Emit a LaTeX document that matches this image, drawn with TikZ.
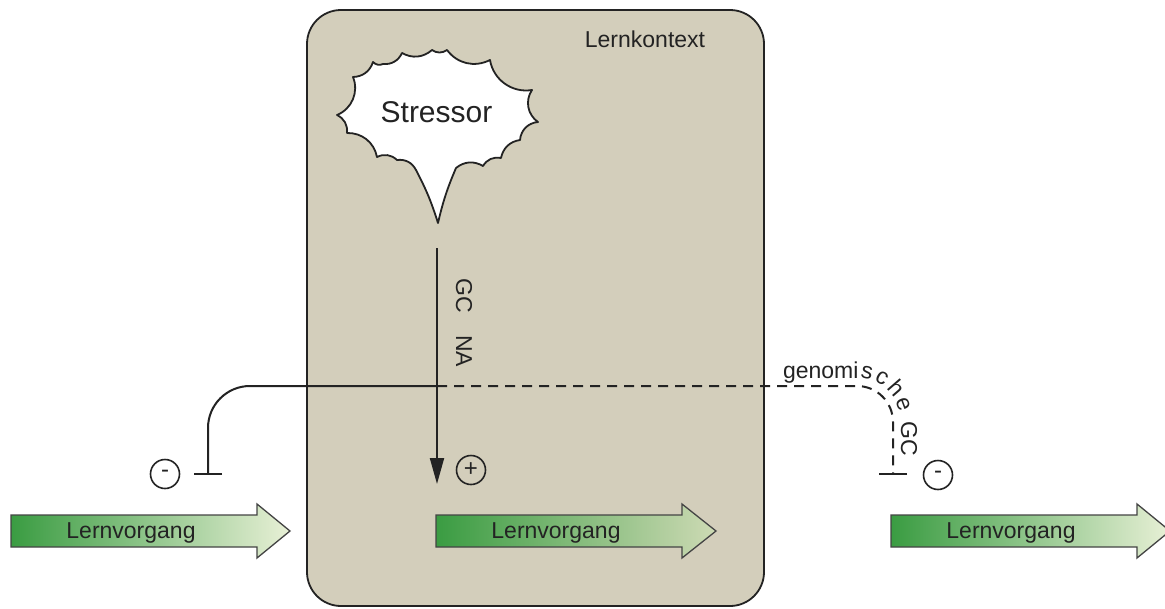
\documentclass[tikz,border=0pt]{standalone}
\usepackage{fontspec}
\setmainfont{Liberation Sans}
\usetikzlibrary{arrows.meta,calc,decorations.text}
\definecolor{ctxfill}{RGB}{211,206,187}
\definecolor{ink}{RGB}{35,35,35}
\definecolor{gdark}{RGB}{58,156,66}
\definecolor{glight}{RGB}{232,240,214}
\definecolor{glighttwo}{RGB}{205,218,180}
\begin{document}
\begin{tikzpicture}[x=1pt,y=-1pt,
  txt/.style={font=\fontsize{23}{27}\selectfont, text=ink, inner sep=0pt},
  ctxbox/.style={draw=ink, line width=1.8pt, fill=ctxfill, rounded corners=34pt, inner sep=0pt},
  burst/.style={draw=ink, line width=1.8pt, fill=white, line join=round},
  link/.style={draw=ink, line width=2pt},
  dashlink/.style={link, dash pattern=on 10pt off 7pt},
  sign/.style={circle, draw=ink, line width=1.6pt, minimum size=29pt, inner sep=0pt, font=\fontsize{24}{24}\selectfont, text=ink},
  lvarrow/.style={draw=ink!85, line width=1.3pt, left color=gdark, right color=glight},
  lvarrowin/.style={lvarrow, right color=glighttwo}]
\useasboundingbox (0,0) rectangle (1165,608);
\fill[white] (0,0) rectangle (1165,608);

% context box
\node[ctxbox, minimum width=457pt, minimum height=596pt] (ctx) at (535.5,308) {};
\node[txt, anchor=base] (ctxlabel) at (645,47) {Lernkontext};

% burst
\coordinate (pE) at (353,77);
\coordinate (pA) at (373,62);
\coordinate (pB) at (383,64);
\coordinate (pC) at (402,53);
\coordinate (pD) at (432,50);
\coordinate (pDD) at (447,50);
\coordinate (pP) at (490,60);
\coordinate (pQ) at (532,90);
\coordinate (pR) at (538,122);
\coordinate (pS) at (520,140);
\coordinate (pSS) at (501,158);
\coordinate (pT) at (483,166);
\coordinate (pU) at (456,168);
\coordinate (pV) at (438,223);
\coordinate (pW) at (416,170);
\coordinate (pI) at (397,160);
\coordinate (pH) at (377,157);
\coordinate (pG) at (347,133);
\coordinate (pF) at (337,115);
\draw[burst] (pE) to[bend right=35] (pA) to[bend right=35] (pB) to[bend right=35] (pC)
  to[bend right=35] (pD) to[bend right=35] (pDD) to[bend right=40] (pP)
  to[bend right=45] (pQ) to[bend right=45] (pR) to[bend right=40] (pS)
  to[bend right=35] (pSS) to[bend right=35] (pT) to[bend right=35] (pU)
  to[bend right=5] (pV) to[bend right=5] (pW)
  to[bend right=35] (pI) to[bend right=35] (pH) to[bend right=40] (pG)
  to[bend right=35] (pF) to[bend right=45] (pE) -- cycle;
\node[font=\fontsize{30}{34}\selectfont, text=ink, inner sep=0pt, anchor=base] (stressor) at (436.5,122) {Stressor};

% main arrow
\coordinate (astart) at (437,248);
\coordinate (aend) at (437,484);
\coordinate (cross) at (437,386);
\draw[link, -{Triangle[length=26pt,width=14pt]}] (astart) -- (aend);
\node[txt, rotate=-90] (gc) at (464,296) {GC};
\node[txt, rotate=-90] (na) at (464,351) {NA};
\node[sign] (plus) at (471,470) {+};

% inhibition left
\coordinate (leftend) at (208,475);
\draw[link, -{Bar[width=28pt]}] (cross) -- (250,386) .. controls (226.8,386) and (208,404.8) .. (208,428) -- (leftend);
\node[sign] (minusl) at (165,474) {-};

% genomic inhibition right
\coordinate (rightend) at (893,475);
\draw[dashlink, -{Bar[width=28pt]}] (cross) -- (857,386) .. controls (876.9,386) and (893,402.1) .. (893,422) -- (rightend);
\path[decorate, decoration={text along path, raise=8pt,
   text={|\fontsize{23}{27}\selectfont\color{ink}|genomische GC}}]
   (783,386) -- (857,386) .. controls (876.9,386) and (893,402.1) .. (893,422) -- (893,475);
\node[sign] (minusr) at (938,475) {-};

% learning arrows
\path[lvarrow] (11,515) -- (257,515) -- (257,504) -- (290,531) -- (257,558) -- (257,547) -- (11,547) -- cycle;
\node[txt, anchor=base] (lv1) at (131,538) {Lernvorgang};
\path[lvarrowin] (436,515) -- (682,515) -- (682,504) -- (716,531) -- (682,558) -- (682,547) -- (436,547) -- cycle;
\node[txt, anchor=base] (lv2) at (556,538) {Lernvorgang};
\path[lvarrow] (891,515) -- (1137,515) -- (1137,504) -- (1170,531) -- (1137,558) -- (1137,547) -- (891,547) -- cycle;
\node[txt, anchor=base] (lv3) at (1011,538) {Lernvorgang};
\end{tikzpicture}
\end{document}
